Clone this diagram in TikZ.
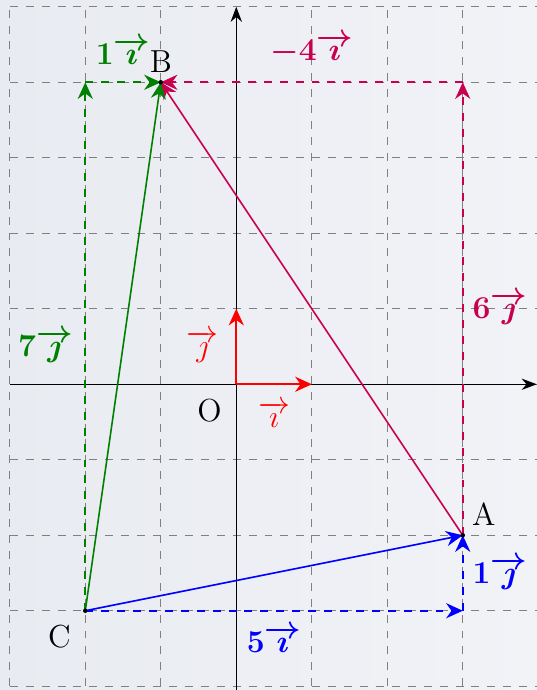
\documentclass[tikz,border=0pt]{standalone}
\usepackage{amsmath,bm}
\usetikzlibrary{arrows.meta}
\definecolor{fondG}{RGB}{232,235,241}
\definecolor{fondD}{RGB}{242,243,247}
\definecolor{pourpre}{RGB}{200,0,80}
\definecolor{vert}{RGB}{0,128,0}
\newcommand{\vi}{\overrightarrow{\imath}}
\newcommand{\vj}{\overrightarrow{\jmath}}
\tikzset{
  grille/.style={gray,dashed,thin},
  axe/.style={-{Stealth[length=2mm]},thin},
  vecteur/.style={-{Stealth[length=2.2mm,width=2mm]},semithick},
  composante/.style={-{Stealth[length=2.2mm,width=2mm]},thick,dashed},
  etiquette/.style={font=\large},
}
\begin{document}
\begin{tikzpicture}
        % Fond et cadre
        \useasboundingbox (-3.13,-4.05) rectangle (3.98,5.09);
        \shade[left color=fondG,right color=fondD] (-3.13,-4.05) rectangle (3.98,5.09);
        % Grille
        \draw[grille] (-3,-4) grid (4.2,5);
        % Axes
        \draw[axe] (-3,0) -- (3.98,0);
        \draw[axe] (0,-4.05) -- (0,5);
        % Points
        \coordinate (O) at (0,0);
        \coordinate (A) at (3,-2);
        \coordinate (B) at (-1,4);
        \coordinate (C) at (-2,-3);
        \coordinate (I) at (1,0);
        \coordinate (J) at (0,1);
        \coordinate (P) at (3,4);
        \coordinate (Q) at (-2,4);
        \coordinate (R) at (3,-3);
        % Repere (i, j)
        \draw[vecteur,red,thick] (O) -- (I) node[midway,below=3pt,etiquette] {$\vi$};
        \draw[vecteur,red,thick] (O) -- (J) node[midway,left=3pt,etiquette] {$\vj$};
        % Vecteur AB et ses composantes
        \draw[composante,pourpre] (A) -- (P) node[pos=0.5,right,etiquette] {$\bm{6\vj}$};
        \draw[composante,pourpre] (P) -- (B) node[midway,above=3pt,etiquette] {$\bm{-4\vi}$};
        \draw[vecteur,pourpre] (A) -- (B);
        % Vecteur CB et ses composantes
        \draw[composante,vert] (C) -- (Q) node[pos=0.5,left=1pt,etiquette] {$\bm{7\vj}$};
        \draw[composante,vert] (Q) -- (B) node[midway,above=3pt,etiquette] {$\bm{1\vi}$};
        \draw[vecteur,vert] (C) -- (B);
        % Vecteur CA et ses composantes
        \draw[composante,blue] (C) -- (R) node[midway,below=2pt,etiquette] {$\bm{5\vi}$};
        \draw[composante,blue] (R) -- (A) node[midway,right,etiquette] {$\bm{1\vj}$};
        \draw[vecteur,blue] (C) -- (A);
        % Noms des points
        \fill (A) circle (0.03) node[above right,etiquette] {A};
        \fill (B) circle (0.03) node[above,etiquette] {B};
        \fill (C) circle (0.03) node[below left=2pt,etiquette] {C};
        \node[below left=2pt,etiquette] at (O) {O};
    \end{tikzpicture}
\end{document}
